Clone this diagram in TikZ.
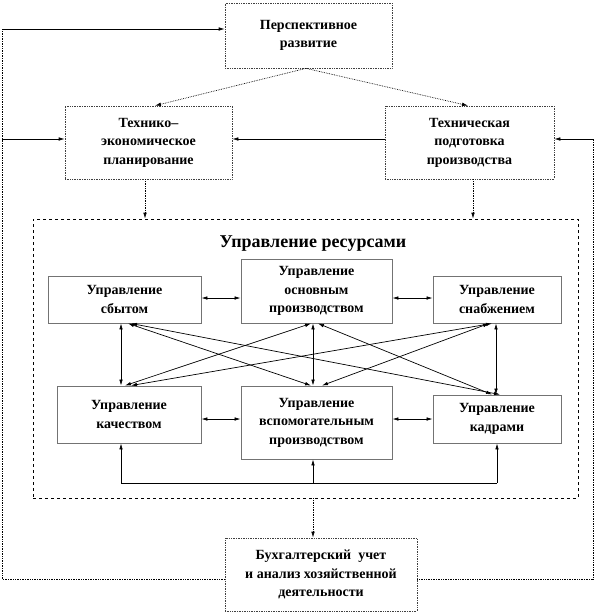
\documentclass[tikz,border=0pt]{standalone}
\usepackage{fontspec}
\setmainfont{Liberation Serif}
\newfontfamily\tnr{Liberation Serif}
\usetikzlibrary{arrows.meta,calc}
\begin{document}
\begin{tikzpicture}[x=1pt,y=-1pt,
  boxfont/.style={font=\tnr\bfseries\fontsize{14}{18.5}\selectfont},
  obox/.style={draw=black!75, densely dotted, line width=0.7pt, align=center, inner sep=0pt, boxfont},
  ibox/.style={draw=black!55, line width=0.9pt, align=center, inner sep=0pt, boxfont},
  dashbox/.style={draw=black, dashed, line width=0.7pt, inner sep=0pt},
  tip/.tip={Latex[length=6pt,width=3.6pt]},
  arr/.style={-tip, line width=0.7pt},
  dbl/.style={tip-tip, line width=0.7pt},
  dotline/.style={densely dotted, line width=0.7pt},
  plain/.style={line width=0.7pt}]
\useasboundingbox (0,0) rectangle (594,614);

% outer boxes
\node[obox, minimum width=167pt, minimum height=65pt] (persp) at (308.5,35.5) {Перспективное\\развитие};
\node[obox, minimum width=167pt, minimum height=73pt] (tep) at (148.5,142.5) {Технико–\\экономическое\\планирование};
\node[obox, minimum width=169pt, minimum height=73pt] (tpp) at (469.5,142.5) {Техническая\\подготовка\\производства};
\node[obox, minimum width=192pt, minimum height=73pt] (buh) at (321,574.5) {Бухгалтерский\ \ учет\\и анализ хозяйственной\\деятельности};

% resource management frame
\node[dashbox, minimum width=545pt, minimum height=279pt] (res) at (305.5,358.5) {};
\node[font=\tnr\bfseries\fontsize{18}{20}\selectfont, inner sep=0pt] (title) at (313,244) {Управление ресурсами};

% inner boxes
\node[ibox, minimum width=153pt, minimum height=47pt] (sbyt) at (124.5,299.5) {Управление\\сбытом};
\node[ibox, minimum width=151pt, minimum height=64pt] (osn) at (316.5,291) {Управление\\основным\\производством};
\node[ibox, minimum width=128pt, minimum height=47pt] (snab) at (497,299.5) {Управление\\снабжением};
\node[ibox, minimum width=144pt, minimum height=57pt] (kach) at (129,414.5) {Управление\\качеством};
\node[ibox, minimum width=151pt, minimum height=73pt] (vsp) at (316.5,422.5) {Управление\\вспомогательным\\производством};
\node[ibox, minimum width=128pt, minimum height=48pt] (kadr) at (497,419) {Управление\\кадрами};

% top connections
\draw[arr, dotline] ([xshift=-2.5pt]persp.south) -- ([xshift=6.5pt]tep.north);
\draw[arr, dotline] ([xshift=-2.5pt]persp.south) -- ([xshift=-1.5pt]tpp.north);
\draw[arr] ([yshift=3.5pt]tpp.west) -- ([yshift=3.5pt]tep.east);
\draw[arr, dotline] ([xshift=-3.5pt]tep.south) -- ([xshift=-3.5pt]tep.south |- res.north);
\draw[arr, dotline] ([xshift=3.5pt]tpp.south) -- ([xshift=3.5pt]tpp.south |- res.north);
\draw[arr, dotline] ([xshift=7.5pt]res.south) -- ([xshift=7.5pt]res.south |- buh.north);

% feedback frame
\coordinate (lt) at (2,29);
\coordinate (lm) at (2,139);
\coordinate (lb) at (2,579);
\coordinate (rm) at (593,139);
\coordinate (rb) at (593,579);
\draw[dotline] ([yshift=-4.5pt]buh.west) -- (lb) -- (lt);
\draw[arr] (lt) -- ([yshift=6.5pt]persp.west);
\draw[arr] (lm) -- ([yshift=3.5pt]tep.west);
\draw[dotline] ([yshift=-4.5pt]buh.east) -- (rb) -- (rm);
\draw[arr] (rm) -- ([yshift=3.5pt]tpp.east);

% horizontal links
\draw[dbl] ([yshift=1.5pt]sbyt.east) -- ([yshift=1.5pt]sbyt.east -| osn.west);
\draw[dbl] ([yshift=1.5pt]snab.west -| osn.east) -- ([yshift=1.5pt]snab.west);
\draw[dbl] ([yshift=-4.5pt]kach.east) -- ([yshift=-4.5pt]kach.east -| vsp.west);
\draw[dbl] (kadr.west -| vsp.east) -- (kadr.west);

% vertical links
\draw[dbl] ([xshift=-3.5pt]sbyt.south) -- ([xshift=-3.5pt]sbyt.south |- kach.north);
\draw[dbl] ([xshift=-3.5pt]osn.south) -- ([xshift=-3.5pt]osn.south |- vsp.north);
\draw[dbl] ([xshift=-1pt]snab.south) -- ([xshift=-1pt]snab.south |- kadr.north);

% diagonal links
\draw[dbl] ([xshift=6.5pt]sbyt.south) -- ([xshift=3pt]kadr.north);
\draw[dbl] ([xshift=3.5pt]sbyt.south) -- ([xshift=-5.5pt]vsp.north);
\draw[dbl] ([xshift=-5.5pt]osn.south) -- ([xshift=-4pt]kach.north);
\draw[dbl] ([xshift=1.5pt]osn.south) -- ([xshift=-5pt]kadr.north);
\draw[dbl] ([xshift=-5pt]snab.south) -- ([xshift=2pt]kach.north);
\draw[dbl] ([xshift=-8pt]snab.south) -- ([xshift=5.5pt]vsp.north);

% bottom distribution line
\coordinate (b1) at (121,483);
\coordinate (b3) at (497,483);
\draw[plain] (b1) -- (b3);
\draw[arr] (b1) -- (b1 |- kach.south);
\draw[arr] ([xshift=-3.5pt]vsp.south |- b1) -- ([xshift=-3.5pt]vsp.south);
\draw[arr] (b3) -- (b3 |- kadr.south);
\end{tikzpicture}
\end{document}
